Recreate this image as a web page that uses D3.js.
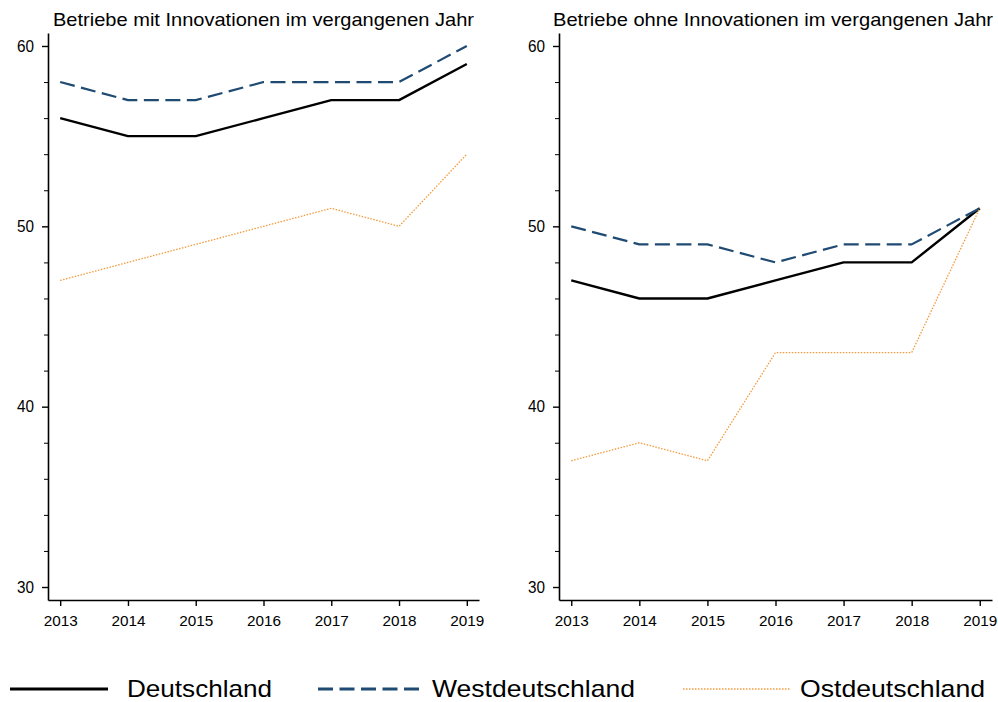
<!DOCTYPE html>
<html>
<head>
<meta charset="utf-8">
<script src="https://cdn.jsdelivr.net/npm/d3@7"></script>
<style>
  html, body { margin: 0; padding: 0; background: #fff; }
  svg { display: block; font-family: "Liberation Sans", Arial, sans-serif; }
</style>
</head>
<body>
<svg id="chart" width="998" height="702"></svg>
<script>
// Years on the x axis
const years = [2013, 2014, 2015, 2016, 2017, 2018, 2019];

// Panel titles
const panelTitles = [
  "Betriebe mit Innovationen im vergangenen Jahr",
  "Betriebe ohne Innovationen im vergangenen Jahr"
];

// Series names (legend)
const seriesNames = ["Deutschland", "Westdeutschland", "Ostdeutschland"];

// Values, panel 1: firms with innovations
const mitDeutschland = [56, 55, 55, 56, 57, 57, 59];
const mitWest        = [58, 57, 57, 58, 58, 58, 60];
const mitOst         = [47, 48, 49, 50, 51, 50, 54];

// Values, panel 2: firms without innovations
const ohneDeutschland = [47, 46, 46, 47, 48, 48, 51];
const ohneWest        = [50, 49, 49, 48, 49, 49, 51];
const ohneOst         = [37, 38, 37, 43, 43, 43, 51];

// Y axis ticks
const yMajorTicks = [30, 40, 50, 60];
const yMinorTicks = [32, 34, 36, 38, 42, 44, 46, 48, 52, 54, 56, 58];

const styles = [
  { color: "#000000", width: 2.4, dash: null },
  { color: "#1f4a72", width: 2.2, dash: "15,6.5" },
  { color: "#f39a3c", width: 1.3, dash: "1.5,1.5" }
];

const panels = [
  { title: panelTitles[0], series: [mitDeutschland, mitWest, mitOst], left: 48, right: 479, titleX: 53, titleW: 421 },
  { title: panelTitles[1], series: [ohneDeutschland, ohneWest, ohneOst], left: 559, right: 992, titleX: 553, titleW: 440 }
];

const svg = d3.select("#chart");
const plotTop = 33, plotBottom = 600;

panels.forEach(p => {
  const x = d3.scaleLinear()
    .domain([2012.82, 2019.18])
    .range([p.left, p.right]);
  const y = d3.scaleLinear()
    .domain([29.28, 60.72])
    .range([plotBottom, plotTop]);

  const g = svg.append("g");

  // title
  g.append("text")
    .attr("x", p.titleX)
    .attr("y", 25.5)
    .attr("font-size", 18.5)
    .attr("textLength", p.titleW)
    .attr("lengthAdjust", "spacingAndGlyphs")
    .attr("fill", "#000")
    .text(p.title);

  // lines
  const line = d3.line()
    .x((d, i) => x(years[i]))
    .y(d => y(d));
  p.series.forEach((vals, si) => {
    const s = styles[si];
    g.append("path")
      .datum(vals)
      .attr("d", line)
      .attr("fill", "none")
      .attr("stroke", s.color)
      .attr("stroke-width", s.width)
      .attr("stroke-dasharray", s.dash)
      .attr("stroke-linejoin", "round");
  });

  // y axis
  const yAxis = d3.axisLeft(y).tickValues(yMajorTicks).tickSize(6).tickPadding(8).tickSizeOuter(0);
  const ya = g.append("g").attr("transform", `translate(${p.left},0)`).call(yAxis);
  ya.attr("font-size", 16).attr("font-family", "'Liberation Sans', Arial, sans-serif");
  ya.select(".domain").attr("stroke-width", 1.6);
  ya.selectAll(".tick line").attr("stroke-width", 1.4);
  ya.selectAll(".tick text").attr("textLength", 17).attr("lengthAdjust", "spacingAndGlyphs");

  const yMinor = d3.axisLeft(y).tickValues(yMinorTicks).tickSize(4).tickFormat("");
  const ym = g.append("g").attr("transform", `translate(${p.left},0)`).call(yMinor);
  ym.select(".domain").remove();
  ym.selectAll(".tick line").attr("stroke-width", 1);

  // x axis
  const xAxis = d3.axisBottom(x).tickValues(years).tickFormat(d3.format("d")).tickSize(6).tickPadding(9).tickSizeOuter(0);
  const xa = g.append("g").attr("transform", `translate(0,${plotBottom})`).call(xAxis);
  xa.attr("font-size", 15.5).attr("font-family", "'Liberation Sans', Arial, sans-serif");
  xa.select(".domain").attr("stroke-width", 1.6);
  xa.selectAll(".tick line").attr("stroke-width", 1.4);
  xa.selectAll(".tick text").attr("textLength", 34).attr("lengthAdjust", "spacingAndGlyphs");
});

// legend
const legendItems = [
  { x1: 10, x2: 108, tx: 127, tw: 145 },
  { x1: 318, x2: 420, tx: 432, tw: 203 },
  { x1: 683, x2: 790, tx: 800, tw: 185 }
];
const lg = svg.append("g");
legendItems.forEach((it, i) => {
  const s = styles[i];
  lg.append("line")
    .attr("x1", it.x1).attr("x2", it.x2)
    .attr("y1", 689).attr("y2", 689)
    .attr("stroke", s.color)
    .attr("stroke-width", i === 2 ? 1.5 : 2.8)
    .attr("stroke-dasharray", s.dash);
  lg.append("text")
    .attr("x", it.tx).attr("y", 697)
    .attr("font-size", 24)
    .attr("textLength", it.tw)
    .attr("lengthAdjust", "spacingAndGlyphs")
    .attr("fill", "#000")
    .text(seriesNames[i]);
});
</script>
</body>
</html>
